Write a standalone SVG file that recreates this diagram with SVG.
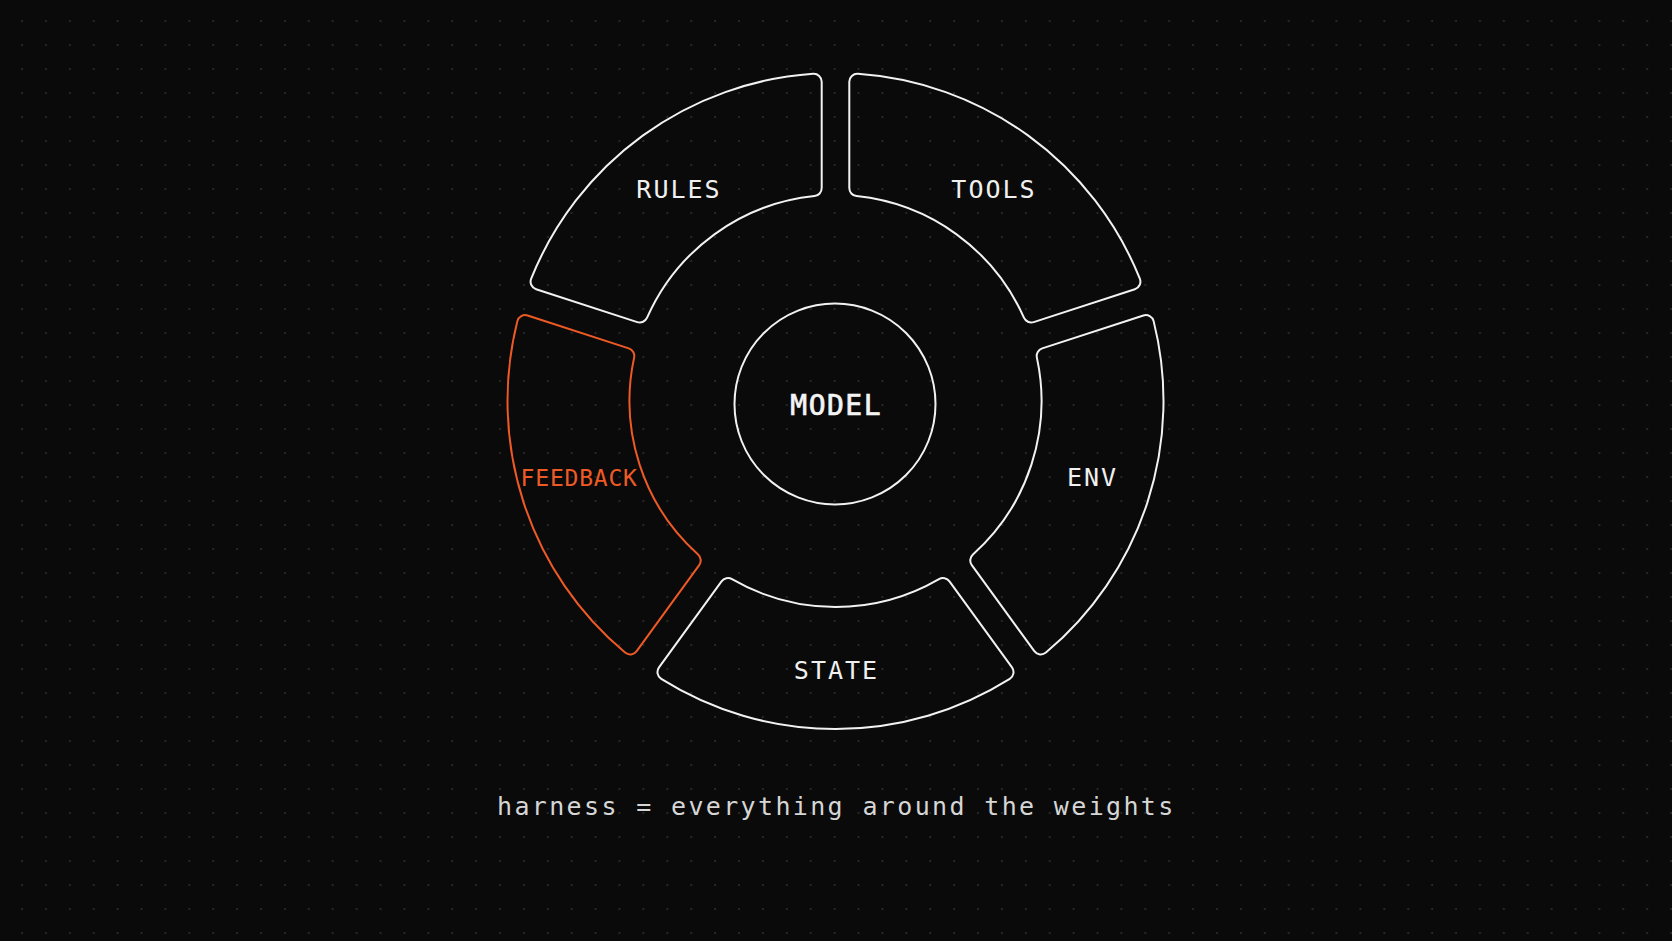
<svg xmlns="http://www.w3.org/2000/svg" width="1672" height="941" viewBox="0 0 1672 941">
  <defs>
    <pattern id="dots" x="10" y="9" width="23.9" height="24" patternUnits="userSpaceOnUse">
      <circle cx="12" cy="12" r="1" fill="#2f2f2f"/>
    </pattern>
    <path id="seg" d="M 180.340,-113.968 L 266.396,-176.490 A 8 8 0 0 1 277.876,-174.267 A 328 328 0 0 1 277.876,174.267 A 8 8 0 0 1 266.396,176.490 L 180.340,113.968 A 8 8 0 0 1 178.126,103.477 A 206 206 0 0 0 178.126,-103.477 A 8 8 0 0 1 180.340,-113.968 Z"/>
  </defs>
  <style>
    .seg { fill: none; stroke: #f2f2f2; stroke-width: 2; }
    .seg.hot { stroke: #ee5a26; }
    .lbl { font-family: "DejaVu Sans Mono", "Liberation Mono", monospace; font-size: 25px; letter-spacing: 2px; fill: #f0f0f0; text-anchor: middle; }
    .lbl.hot { fill: #ee5a26; font-size: 23px; letter-spacing: 0.8px; }
    .model { font-family: "DejaVu Sans Mono", "Liberation Mono", monospace; font-size: 28px; letter-spacing: 1.5px; fill: #f4f4f4; stroke: #f4f4f4; stroke-width: 0.7px; text-anchor: middle; }
    .cap { font-family: "DejaVu Sans Mono", "Liberation Mono", monospace; font-size: 25px; letter-spacing: 2.35px; fill: #d6d6d6; }
  </style>
  <rect width="1672" height="941" fill="#0a0a0a"/>
  <rect width="1672" height="941" fill="url(#dots)"/>

  <g id="connectors"></g>

  <g id="node-model">
    <circle cx="835" cy="404" r="100.5" fill="none" stroke="#f2f2f2" stroke-width="2"/>
    <text class="model" x="836.2" y="415">MODEL</text>
  </g>
  <g id="node-tools">
    <use href="#seg" class="seg" transform="translate(835.5 401) rotate(-54)"/>
    <text class="lbl" x="994" y="198">TOOLS</text>
  </g>
  <g id="node-env">
    <use href="#seg" class="seg" transform="translate(835.5 401) rotate(18)"/>
    <text class="lbl" x="1092.5" y="486">ENV</text>
  </g>
  <g id="node-state">
    <use href="#seg" class="seg" transform="translate(835.5 401) rotate(90)"/>
    <text class="lbl" x="836.5" y="679">STATE</text>
  </g>
  <g id="node-feedback">
    <use href="#seg" class="seg hot" transform="translate(835.5 401) rotate(162)"/>
    <text class="lbl hot" x="579.2" y="486">FEEDBACK</text>
  </g>
  <g id="node-rules">
    <use href="#seg" class="seg" transform="translate(835.5 401) rotate(234)"/>
    <text class="lbl" x="679" y="198">RULES</text>
  </g>

  <text class="cap" x="497" y="815">harness = everything around the weights</text>
</svg>
